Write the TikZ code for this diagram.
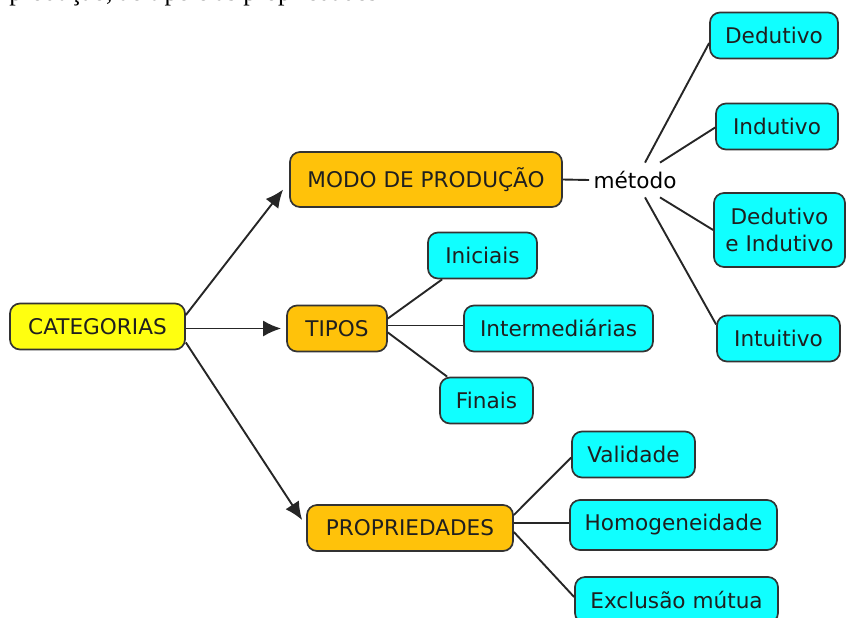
\documentclass[tikz,border=0pt]{standalone}
\usepackage{fontspec}
\setmainfont{DejaVu Sans}
\newfontfamily\serifa{Liberation Serif}
\usetikzlibrary{arrows.meta}
\definecolor{amarelo}{HTML}{FFFF10}
\definecolor{laranja}{HTML}{FFC20A}
\definecolor{ciano}{HTML}{10FFFF}

\begin{document}
\begin{tikzpicture}[x=0.5pt,y=-0.5pt]
\tikzset{Y/.style={rectangle,rounded corners=5pt,draw=black!80,line width=0.85pt,fill=amarelo,text=black!88,
  minimum height=23pt,inner sep=0pt,font=\fontsize{10.8}{13.5}\selectfont},
  O/.style={Y,fill=laranja},
  B/.style={Y,fill=ciano},
  L/.style={line width=0.95pt,draw=black!85},
  A/.style={L,-{Latex[length=9pt,width=8pt]}}}

  \clip (0,0) rectangle (846,617);

  \node[anchor=base west,inner sep=0pt,font=\serifa\fontsize{13}{15}\selectfont] (frag) at (9,0.5) {produção, ao tipo e às propriedades};

  \node[Y,minimum width=87.5pt] (cat) at (97.5,326.5) {CATEGORIAS};
  \node[O,minimum width=136pt,minimum height=27.5pt] (modo) at (426,179.5) {MODO DE PRODUÇÃO};
  \node[O,minimum width=50pt] (tipos) at (337,328.5) {TIPOS};
  \node[O,minimum width=103pt] (prop) at (410,528) {PROPRIEDADES};
  \node[inner sep=0pt,minimum height=17pt,font=\fontsize{10.8}{13.5}\selectfont] (metodo) at (635,180) {método};

  \node[B,minimum width=64pt] (ded) at (774,35.5) {Dedutivo};
  \node[B,minimum width=61pt] (ind) at (777,126.5) {Indutivo};
  \node[B,minimum width=65.5pt,minimum height=37pt,align=center] (dei) at (779.5,230) {Dedutivo\\e Indutivo};
  \node[B,minimum width=61.5pt] (intu) at (778.5,338.5) {Intuitivo};

  \node[B,minimum width=54.5pt] (ini) at (482.5,255.5) {Iniciais};
  \node[B,minimum width=94.5pt] (inter) at (558.5,328.5) {Intermediárias};
  \node[B,minimum width=46.5pt] (fin) at (486.5,400.5) {Finais};

  \node[B,minimum width=61.5pt] (val) at (633.5,454.5) {Validade};
  \node[B,minimum width=103.5pt,minimum height=25pt] (hom) at (673.5,525) {Homogeneidade};
  \node[B,minimum width=101.5pt] (exc) at (676.5,600) {Exclusão mútua};

  \draw[A] ([yshift=5.75pt]cat.east) -- ([xshift=-3pt,yshift=-5pt]modo.west);
  \draw[A] ([yshift=-1pt]cat.east) -- ([xshift=-2.5pt]tipos.west);
  \draw[A] ([yshift=-8pt]cat.east) -- ([xshift=-2pt,yshift=4pt]prop.west);

  \draw[L] (modo.east) -- ([xshift=-2pt]metodo.west);
  \draw[L] ([xshift=5pt]metodo.north) -- ([yshift=-3.75pt]ded.west);
  \draw[L] ([xshift=12.5pt]metodo.north) -- ([yshift=-0.5pt]ind.west);
  \draw[L] ([xshift=12.5pt]metodo.south) -- (dei.west);
  \draw[L] ([xshift=5pt]metodo.south) -- ([yshift=7pt]intu.west);

  \draw[L] ([yshift=5pt]tipos.east) -- ([xshift=7.5pt]ini.south west);
  \draw[L] ([yshift=1.5pt]tipos.east) -- ([yshift=1.5pt]inter.west);
  \draw[L] ([yshift=-2pt]tipos.east) -- ([xshift=4pt]fin.north west);

  \draw[L] ([yshift=6.5pt]prop.east) -- ([yshift=-1.5pt]val.west);
  \draw[L] ([yshift=2.5pt]prop.east) -- ([yshift=1pt]hom.west);
  \draw[L] ([yshift=-2pt]prop.east) -- ([yshift=1.5pt]exc.west);
\end{tikzpicture}
\end{document}
